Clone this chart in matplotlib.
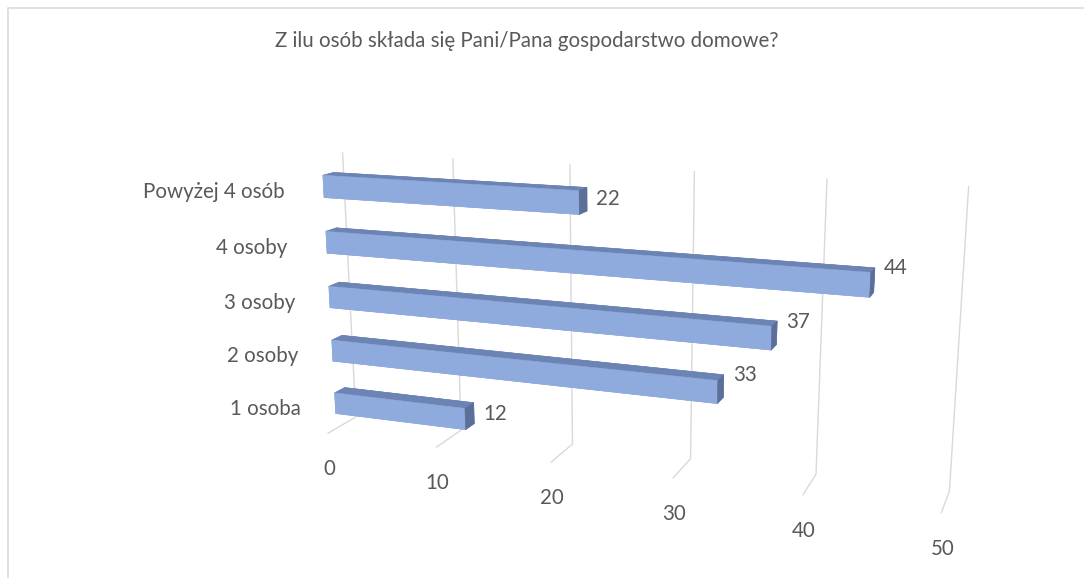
import numpy as np
import matplotlib
matplotlib.use('Agg')
import matplotlib.pyplot as plt
from matplotlib.patches import Rectangle

# ---------------- data ----------------
categories = ['1 osoba', '2 osoby', '3 osoby', '4 osoby ', 'Powyżej 4 osób ']
values = [12, 33, 37, 44, 22]
value_ticks = [0, 10, 20, 30, 40, 50]
title = 'Z ilu osób składa się Pani/Pana gospodarstwo domowe?'

# ---------------- style / view ----------------
W, H = 1084, 578
TEXT = '#595959'
GRID = '#d9d9d9'
FRONT = '#8FAADC'
TOPC = '#6C84B4'
ENDC = '#5B6F99'
FONT = ['Lato', 'DejaVu Sans']
FS = 14.8

ELEV, AZIM, FOCAL = 14.6302, -69.9563, 0.36995
BOX = (1.0, 0.09096, 0.45463)
K, AXO, AYO = 3793.106, 620.867, 257.831
ZLO, ZHI = -0.48261, 4.51439        # category units (wall bottom / top)
YF, YB = 0.31020, 0.65973           # bar depth (0 = front of floor, 1 = back wall)
HH = 0.19753                        # half bar height in category units

plt.rcParams['font.family'] = FONT
fig = plt.figure(figsize=(W/100, H/100), dpi=100)
fig.patch.set_facecolor('white')

S = K * 0.185
left = AXO - K * 0.095
bottom = AYO - K * 0.095
ax = fig.add_axes([left/W, bottom/H, S/W, S/H], projection='3d', computed_zorder=False)
ax.set_facecolor('none')
ax.set_axis_off()

# wall gridlines and floor lines
for v in value_ticks:
    ax.plot([v, v], [1, 1], [ZLO, ZHI], color=GRID, lw=1.0, zorder=1,
            solid_capstyle='butt', clip_on=False)
    ax.plot([v, v], [1, 0], [ZLO, ZLO], color=GRID, lw=1.0, zorder=1,
            solid_capstyle='butt', clip_on=False)

# bars: face order bottom, top, front, back, left, right
face_cols = [FRONT, TOPC, FRONT, TOPC, FRONT, ENDC]
for i, v in enumerate(values):
    bars = ax.bar3d(0, YF, i - HH, v, YB - YF, 2*HH, color=face_cols, edgecolor=face_cols,
                    linewidth=0.4, shade=False, zorder=3)
    bars.set_clip_on(False)

ax.view_init(elev=ELEV, azim=AZIM)
ax.set_proj_type('persp', focal_length=FOCAL)
ax.set_xlim(0, 50)
ax.set_ylim(0, 1)
ax.set_zlim(ZLO, ZHI)
ax.set_box_aspect(BOX)
fig.canvas.draw()


def to_px(x, y, z):
    """Project a 3-D data point to display pixels (origin bottom-left)."""
    w = ax.get_proj() @ np.array([x, y, z, 1.0])
    return ax.transData.transform((w[0] / w[3], w[1] / w[3]))


def put(xd, yd, s, **kw):
    fig.text(xd / W, yd / H, s, color=TEXT, fontsize=FS, **kw)


# category labels: right of text 34 px left of bar's front-left edge
for i, c in enumerate(categories):
    xd, yd = to_px(0, YF, i)
    put(xd - 34, yd - 11.5, c, ha='right', va='baseline')

# value axis labels below the front floor corners
for v in value_ticks:
    xd, yd = to_px(v, 0, ZLO)
    put(xd + 1.5, yd - 41.4, str(v), ha='center', va='baseline')

# data labels: right of each bar's projected outline, centred on it
for i, v in enumerate(values):
    pts = np.array([to_px(x, y, z) for x in (0, v) for y in (YF, YB)
                    for z in (i - HH, i + HH)])
    xr = pts[:, 0].max()
    yc = (pts[:, 1].max() + pts[:, 1].min()) / 2
    put(xr + 9, yc - 11.4, str(v), ha='left', va='baseline')

fig.text(526.5/W, 1 - 47/H, title, ha='center', va='baseline', color=TEXT, fontsize=FS)

fig.add_artist(Rectangle((7.5/W, -0.05), 1.2, 1.05 - 7.5/H, transform=fig.transFigure,
                         fill=False, edgecolor=GRID, lw=1.1))

fig.savefig('out.png', dpi=100)
